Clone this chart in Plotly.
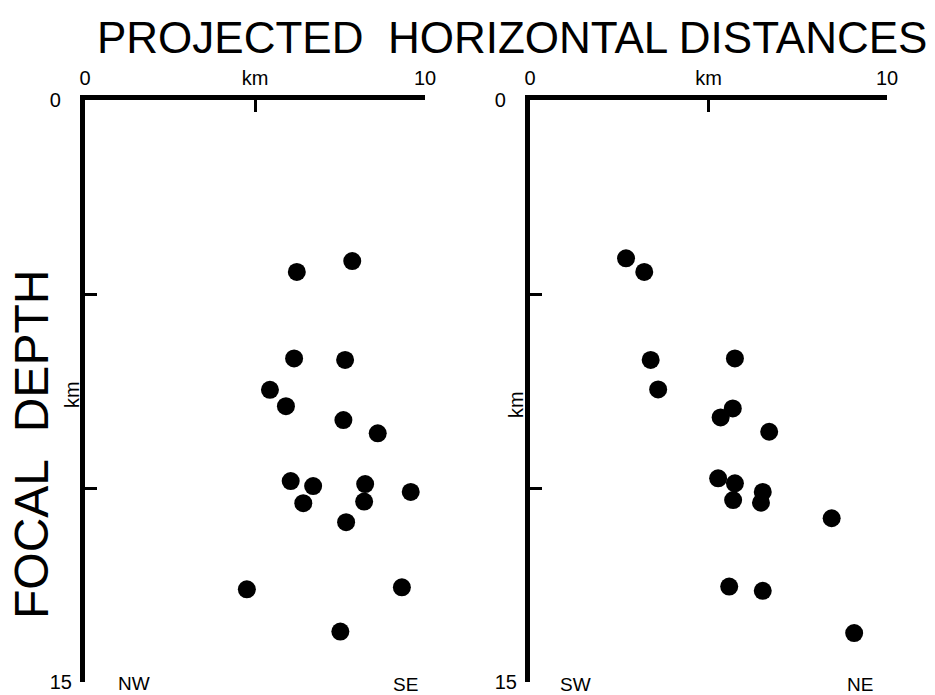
import plotly.graph_objects as go

# Left panel (NW - SE): horizontal distance (km) and focal depth (km)
left_x = [6.23, 7.86, 6.15, 7.65, 5.44, 5.91, 7.60, 8.61, 6.05, 6.71,
          6.42, 8.24, 8.21, 9.58, 7.68, 4.76, 9.32, 7.51]
left_depth = [4.43, 4.15, 6.66, 6.70, 7.47, 7.89, 8.25, 8.59, 9.82, 9.95,
              10.39, 9.90, 10.35, 10.10, 10.88, 12.61, 12.56, 13.70]

# Right panel (SW - NE)
right_x = [2.69, 3.20, 3.38, 5.74, 3.59, 5.68, 5.34, 6.70, 5.27, 5.74,
           5.69, 6.52, 6.47, 8.45, 5.58, 6.52, 9.08]
right_depth = [4.08, 4.43, 6.70, 6.66, 7.46, 7.95, 8.18, 8.55, 9.75, 9.88,
               10.31, 10.10, 10.38, 10.78, 12.54, 12.65, 13.74]

x_tick_vals = [0, 5, 10]
x_tick_text = ["0", "km", "10"]
y_tick_vals = [0, 5, 10, 15]
y_tick_text = ["0\u00a0\u00a0", "", "", "15"]

FONT = "Liberation Sans, Arial, sans-serif"

fig = go.Figure()
fig.add_trace(go.Scatter(x=left_x, y=left_depth, mode="markers",
                         marker=dict(size=18, color="black"),
                         xaxis="x", yaxis="y", cliponaxis=False))
fig.add_trace(go.Scatter(x=right_x, y=right_depth, mode="markers",
                         marker=dict(size=18, color="black"),
                         xaxis="x2", yaxis="y2", cliponaxis=False))

common = dict(showline=True, linecolor="black", linewidth=5,
              ticks="inside", ticklen=12, tickwidth=3, tickcolor="black",
              showgrid=False, zeroline=False, automargin=False,
              tickfont=dict(size=20, color="black", family=FONT))

ydom = [1 - 682 / 695, 1 - 100 / 695]

fig.update_layout(
    template="none",
    width=935, height=695,
    margin=dict(l=0, r=0, t=0, b=0, pad=0),
    paper_bgcolor="white", plot_bgcolor="white",
    showlegend=False,
    font=dict(family=FONT, color="black"),
    xaxis=dict(domain=[85 / 935, 425 / 935], range=[0, 10], side="top",
               anchor="y", tickvals=x_tick_vals, ticktext=x_tick_text,
               ticklabelstandoff=2, **common),
    yaxis=dict(domain=ydom, range=[15, 0], anchor="x",
               tickvals=y_tick_vals, ticktext=y_tick_text,
               ticklabelstandoff=4, **common),
    xaxis2=dict(domain=[530 / 935, 887 / 935], range=[0, 10], side="top",
                anchor="y2", tickvals=x_tick_vals, ticktext=x_tick_text,
                ticklabelstandoff=2, **common),
    yaxis2=dict(domain=ydom, range=[15, 0], anchor="x2",
                tickvals=y_tick_vals, ticktext=y_tick_text,
                ticklabelstandoff=4, **common),
)

def ann(text, x, y, size, angle=0, xanchor="center"):
    fig.add_annotation(text=text, x=x / 935, y=1 - y / 695, xref="paper",
                       yref="paper", showarrow=False, textangle=angle,
                       xanchor=xanchor, yanchor="middle",
                       font=dict(size=size, color="black", family=FONT))

ann("PROJECTED\u00a0\u00a0HORIZONTAL DISTANCES", 512, 37, 44)
ann("FOCAL\u00a0\u00a0DEPTH", 31, 445, 48, angle=-90)
ann("km", 72, 395, 20, angle=-90)
ann("km", 516, 405, 20, angle=-90)
ann("NW", 134, 683, 19)
ann("SE", 405, 684, 19)
ann("SW", 575, 684, 19)
ann("NE", 860, 684, 19)

fig.write_html(
    "out.html",
    config={"displayModeBar": False},
    post_script="document.documentElement.style.margin='0';"
                "document.body.style.margin='0';"
                "document.body.style.overflow='hidden';",
)
